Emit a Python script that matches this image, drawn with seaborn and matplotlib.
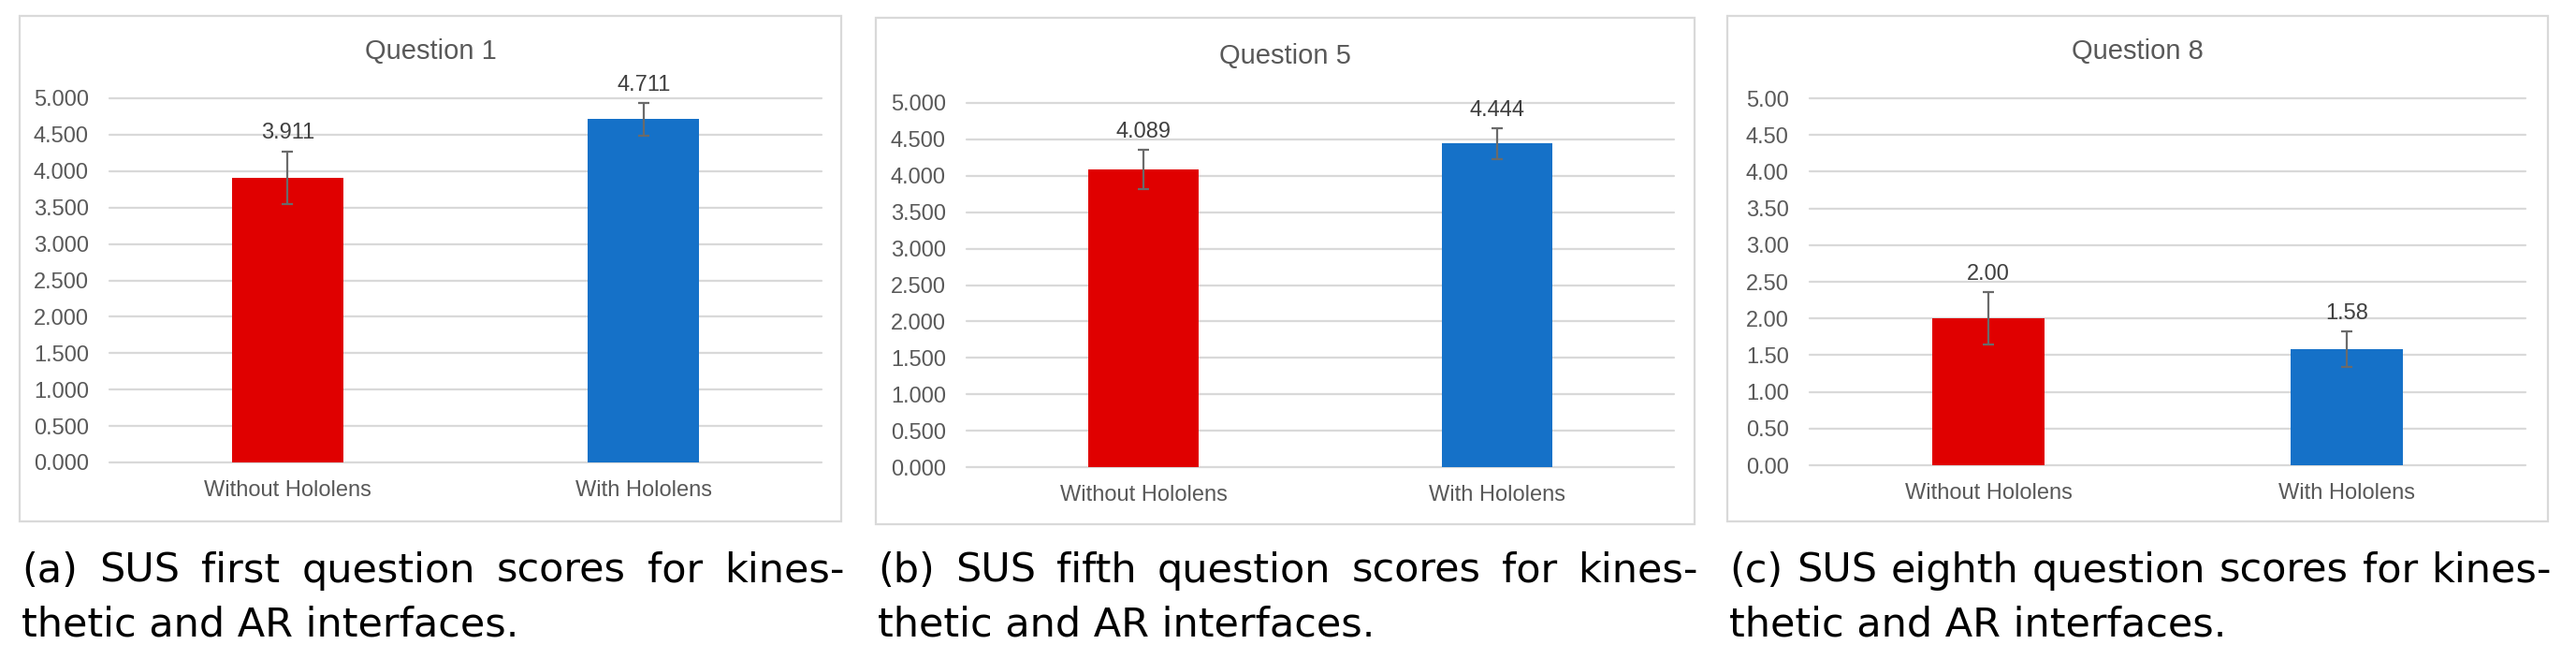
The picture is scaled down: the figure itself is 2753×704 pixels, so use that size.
import matplotlib
matplotlib.use("Agg")
import matplotlib.pyplot as plt
import seaborn as sns
import pandas as pd
import numpy as np
from matplotlib.patches import Rectangle

# ---------------- data ----------------
categories = ["Without Hololens", "With Hololens"]
q1_means = [3.911, 4.711]
q1_errs = [0.36, 0.22]
q5_means = [4.089, 4.444]
q5_errs = [0.27, 0.21]
q8_means = [2.00, 1.58]
q8_errs = [0.36, 0.24]
titles = ["Question 1", "Question 5", "Question 8"]
decimals = [3, 3, 2]
yticks = [0.0, 0.5, 1.0, 1.5, 2.0, 2.5, 3.0, 3.5, 4.0, 4.5, 5.0]
captions = [
    ("(a) SUS first question scores for kines-", "thetic and AR interfaces."),
    ("(b) SUS fifth question scores for kines-", "thetic and AR interfaces."),
    ("(c) SUS eighth question scores for kines-", "thetic and AR interfaces."),
]
bar_colors = ["#E00000", "#1571C8"]

# ---------------- style ----------------
sns.set_theme(style="white")
plt.rcParams["font.family"] = ["Liberation Sans", "DejaVu Sans"]

W, H = 2753, 704
fig = plt.figure(figsize=(W / 100, H / 100), dpi=100)


def fx(px):
    return px / W


def fy(py):
    return 1 - py / H


panels = [
    dict(box=(21, 17, 899, 557), ax=(117, 105, 878, 494), title_y=55),
    dict(box=(936, 19, 1811, 560), ax=(1033, 110, 1789, 499), title_y=60),
    dict(box=(1846, 17, 2723, 557), ax=(1934, 105, 2699, 497), title_y=55),
]
series = [(q1_means, q1_errs), (q5_means, q5_errs), (q8_means, q8_errs)]

grid_c = "#D9D9D9"
text_c = "#595959"

for i, (p, (means, errs)) in enumerate(zip(panels, series)):
    bx0, by0, bx1, by1 = p["box"]
    fig.patches.append(
        Rectangle((fx(bx0), fy(by1)), fx(bx1) - fx(bx0), fy(by0) - fy(by1),
                  transform=fig.transFigure, fill=False, edgecolor=grid_c,
                  linewidth=1.6, zorder=0)
    )
    ax0, ay0, ax1, ay1 = p["ax"]
    ax = fig.add_axes([fx(ax0), fy(ay1), fx(ax1) - fx(ax0), fy(ay0) - fy(ay1)])
    ax.set_facecolor("none")
    df = pd.DataFrame({"cond": categories, "mean": means, "err": errs})
    sns.barplot(data=df, x="cond", y="mean", hue="cond", palette=bar_colors,
                width=0.313, saturation=1, legend=False, ax=ax,
                edgecolor="none", linewidth=0, zorder=2)
    ax.errorbar(x=np.arange(len(categories)), y=df["mean"], yerr=df["err"],
                fmt="none", ecolor="#6A6A6A", elinewidth=1.6, capsize=4,
                capthick=1.6, zorder=3)
    for xi, (m, e) in enumerate(zip(means, errs)):
        ax.annotate(f"{m:.{decimals[i]}f}", xy=(xi, m + e), xytext=(0, 6),
                    textcoords="offset points", ha="center", va="bottom",
                    fontsize=17, color="#404040", zorder=4)
    ax.set_xlim(-0.5, 1.5)
    ax.set_ylim(0, 5)
    ax.set_yticks(yticks)
    ax.set_yticklabels([f"{t:.{decimals[i]}f}" for t in yticks])
    ax.set_xlabel("")
    ax.set_ylabel("")
    ax.grid(axis="y", color=grid_c, linewidth=1.6)
    ax.grid(axis="x", visible=False)
    ax.set_axisbelow(True)
    for gl in ax.get_ygridlines():
        gl.set_clip_on(False)
    for s in ax.spines.values():
        s.set_visible(False)
    ax.tick_params(axis="y", length=0, pad=16, labelsize=17, labelcolor=text_c)
    ax.tick_params(axis="x", length=0, pad=14, labelsize=17, labelcolor=text_c)
    fig.text(fx((bx0 + bx1) / 2), fy(p["title_y"]), titles[i], ha="center",
             va="center", fontsize=21, color=text_c)

# ---------------- captions ----------------
renderer = fig.canvas.get_renderer()
cap_font = dict(family=["DejaVu Sans"], fontsize=31, color="black")
line1_base = 622
line2_base = 680
for i, p in enumerate(panels):
    bx0, by0, bx1, by1 = p["box"]
    x0, x1 = bx0 + 2, bx1 + 4
    words = captions[i][0].split(" ")
    texts = [fig.text(0, 0, w, ha="left", va="baseline", **cap_font) for w in words]
    widths = [t.get_window_extent(renderer).width for t in texts]
    gap = (x1 - x0 - sum(widths)) / (len(words) - 1)
    x = x0
    for t, wdt in zip(texts, widths):
        t.set_position((fx(x), fy(line1_base)))
        x += wdt + gap
    fig.text(fx(x0), fy(line2_base), captions[i][1], ha="left", va="baseline",
             **cap_font)

fig.savefig("out.png", dpi=100)
